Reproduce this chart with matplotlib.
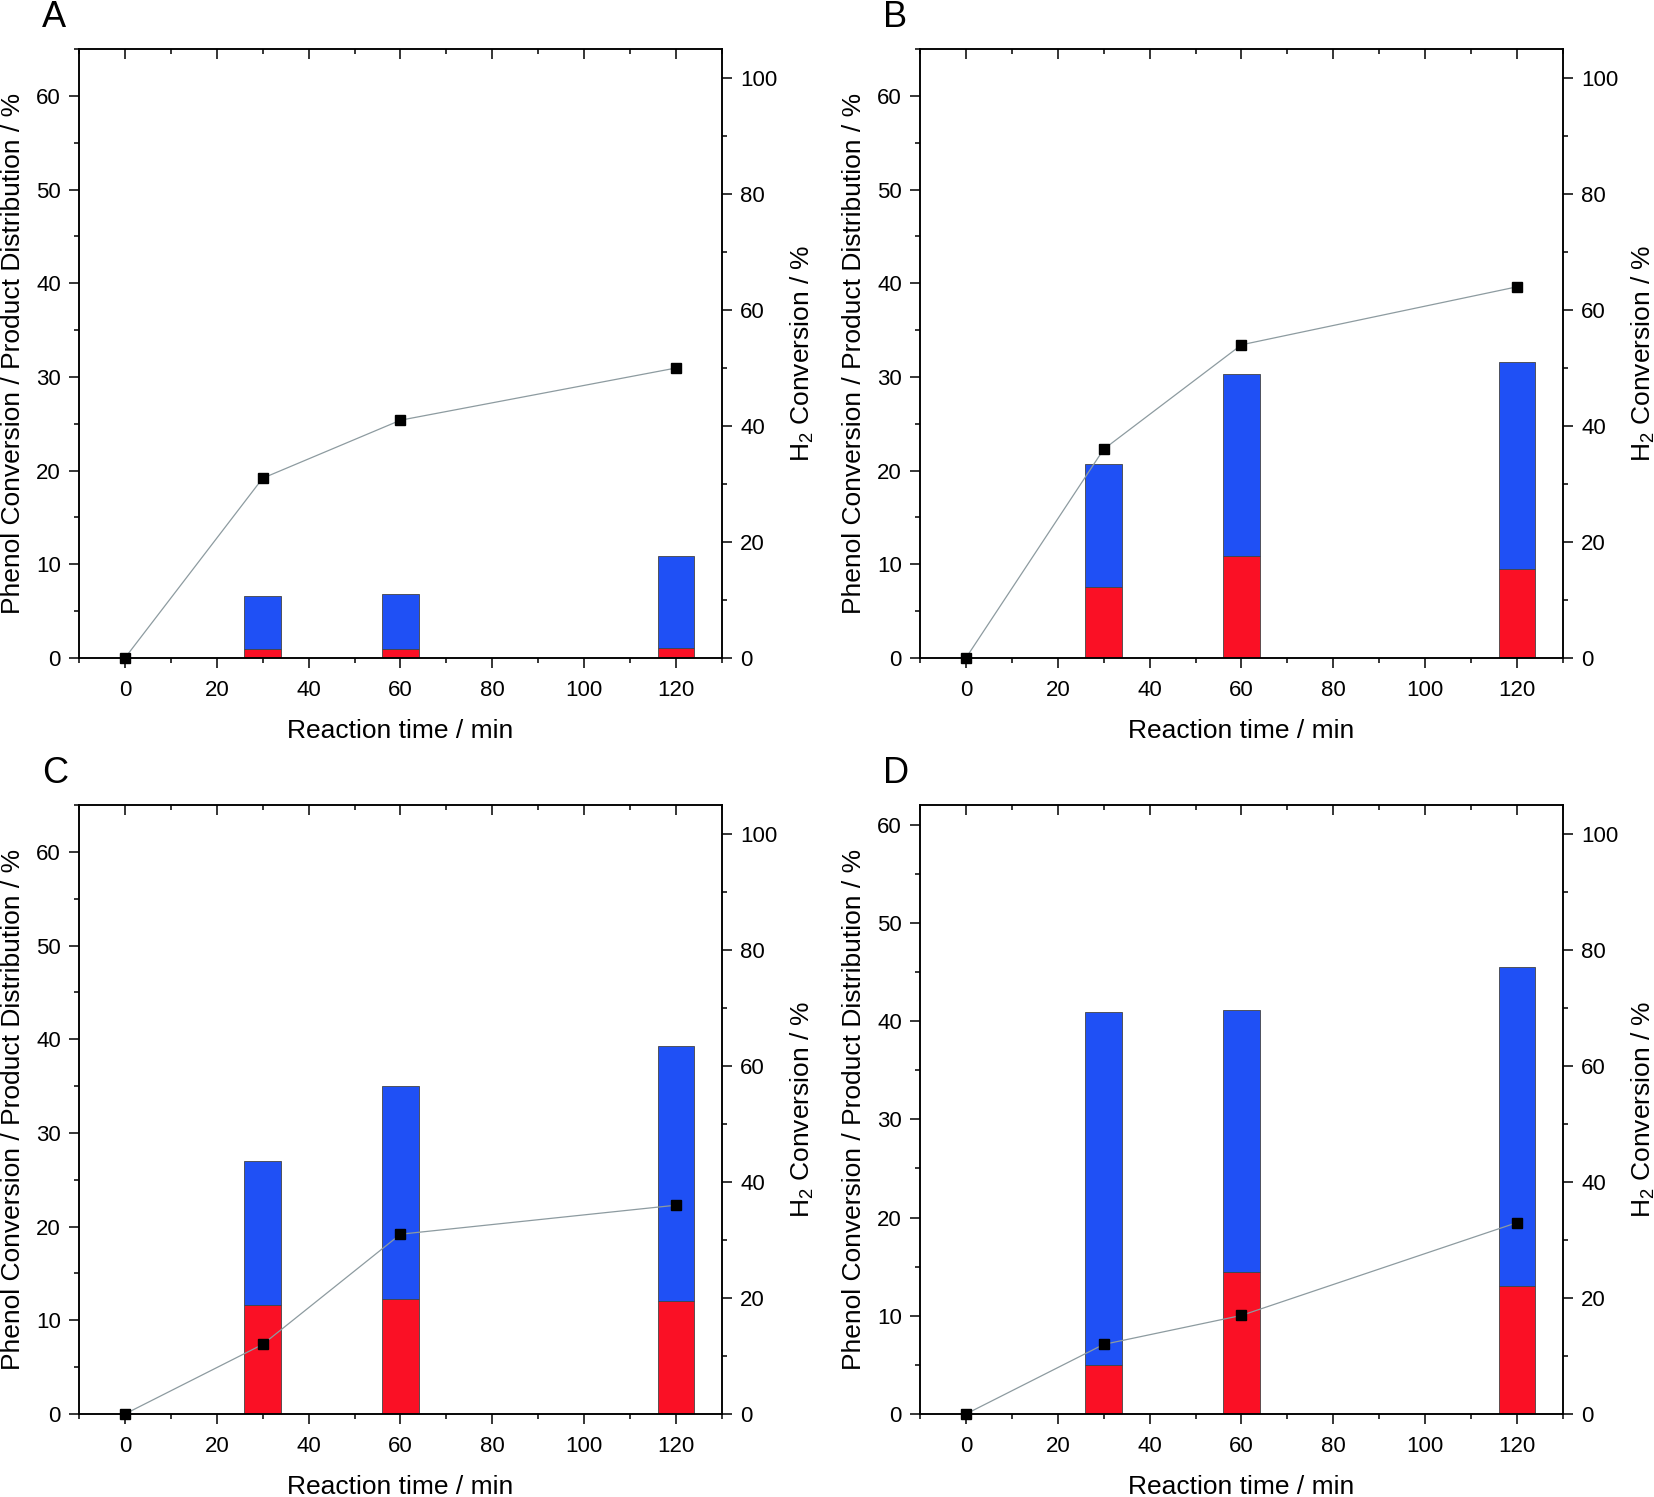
import matplotlib

matplotlib.use("Agg")

import matplotlib.pyplot as plt
from matplotlib.ticker import MultipleLocator

plt.rcParams["font.family"] = ["Liberation Sans", "DejaVu Sans"]
plt.rcParams["mathtext.fontset"] = "custom"
plt.rcParams["mathtext.rm"] = "Liberation Sans"
plt.rcParams["mathtext.it"] = "Liberation Sans:italic"

# Reaction times (min)
line_times = [0, 30, 60, 120]
bar_times = [30, 60, 120]

# Stacked bars, left axis (%): red lower part, blue upper part
red_a = [1.0, 1.0, 1.1]
blue_a = [5.6, 5.8, 9.8]
red_b = [7.55, 10.9, 9.5]
blue_b = [13.15, 19.4, 22.1]
red_c = [11.6, 12.3, 12.1]
blue_c = [15.4, 22.75, 27.2]
red_d = [5.0, 14.5, 13.0]
blue_d = [35.9, 26.6, 32.5]

# H2 conversion, right axis (%)
h2_a = [0, 31, 41, 50]
h2_b = [0, 36, 54, 64]
h2_c = [0, 12, 31, 36]
h2_d = [0, 12, 17, 33]

panel_letters = ["A", "B", "C", "D"]
left_tops = [65, 65, 65, 62]

RED = "#fa1025"
BLUE = "#1f50f5"
LINE_GREY = "#8d9ba0"

FIG_W, FIG_H = 1654, 1497


def style_axis(ax):
    for spine in ax.spines.values():
        spine.set_linewidth(1.1)
    ax.tick_params(which="major", length=7, width=1.1,
                   labelsize=16, pad=6)
    ax.tick_params(which="minor", length=3.5, width=1.1)


def draw_panel(rect, letter, red, blue, h2, left_top):
    ax = fig.add_axes(rect)

    ax.bar(bar_times, red, width=8, color=RED,
           edgecolor="#444444", linewidth=0.6, zorder=2)
    ax.bar(bar_times, blue, width=8, bottom=red, color=BLUE,
           edgecolor="#444444", linewidth=0.6, zorder=2)

    ax.set_xlim(-10, 130)
    ax.set_ylim(0, left_top)
    ax.xaxis.set_major_locator(MultipleLocator(20))
    ax.xaxis.set_minor_locator(MultipleLocator(10))
    ax.yaxis.set_major_locator(MultipleLocator(10))
    ax.yaxis.set_minor_locator(MultipleLocator(5))
    style_axis(ax)
    ax.tick_params(axis="x", which="both", direction="out",
                   top=True, labeltop=False)
    ax.tick_params(axis="x", which="major", pad=9)
    # top ticks point inward, bottom ticks outward
    for tick in ax.xaxis.get_major_ticks() + ax.xaxis.get_minor_ticks():
        tick.tick2line.set_marker(3)
    ax.tick_params(axis="y", which="both", direction="out",
                   right=False)

    ax.set_xlabel("Reaction time / min", fontsize=19, labelpad=13)
    ax.set_ylabel("Phenol Conversion / Product Distribution / %",
                  fontsize=19, labelpad=8)

    ax2 = ax.twinx()
    ax2.plot(line_times, h2, color=LINE_GREY, linewidth=0.9,
             marker="s", markersize=7, markerfacecolor="black",
             markeredgecolor="black", zorder=3, clip_on=False)
    ax2.set_ylim(0, 105)
    ax2.yaxis.set_major_locator(MultipleLocator(20))
    ax2.yaxis.set_minor_locator(MultipleLocator(10))
    style_axis(ax2)
    ax2.tick_params(axis="y", which="both", direction="out")
    ax2.set_ylabel("H$_2$ Conversion / %", fontsize=19, labelpad=8)

    ax.text(-0.058, 1.036, letter, transform=ax.transAxes,
            fontsize=26, ha="left", va="baseline")


fig = plt.figure(figsize=(FIG_W / 100, FIG_H / 100), dpi=100)

ax_w = 643 / FIG_W
ax_h = 609 / FIG_H
lefts = [79 / FIG_W, 920 / FIG_W]
bottoms = [1 - 658 / FIG_H, 1 - 1414 / FIG_H]

panels = [
    (red_a, blue_a, h2_a),
    (red_b, blue_b, h2_b),
    (red_c, blue_c, h2_c),
    (red_d, blue_d, h2_d),
]

for index, (red, blue, h2) in enumerate(panels):
    row, col = divmod(index, 2)
    rect = [lefts[col], bottoms[row], ax_w, ax_h]
    draw_panel(rect, panel_letters[index], red, blue, h2,
               left_tops[index])

fig.savefig("out.png", dpi=100)
